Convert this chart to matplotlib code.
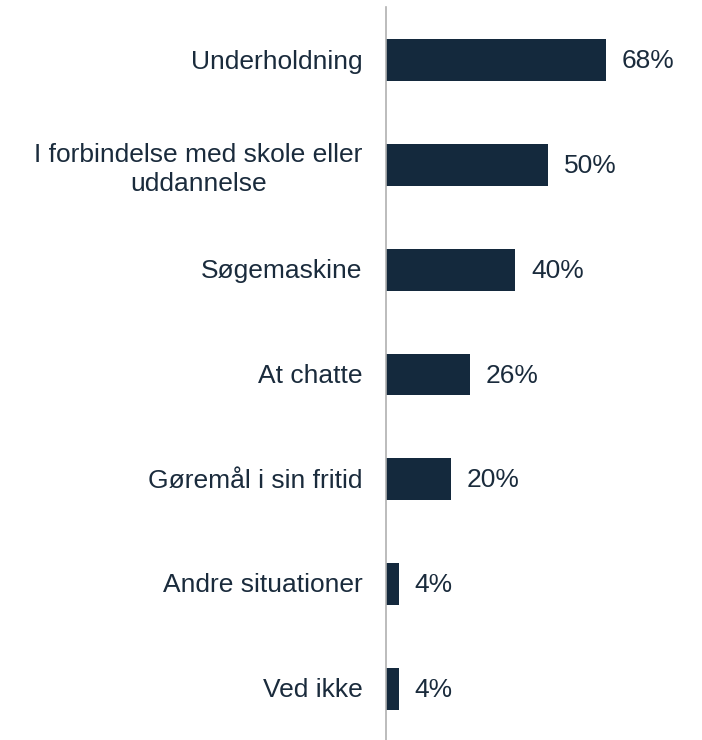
import numpy as np
import matplotlib.pyplot as plt

plt.rcParams['font.family'] = ['Liberation Sans', 'DejaVu Sans']

# Data
categories = [
    "Underholdning",
    "I forbindelse med skole eller\nuddannelse",
    "Søgemaskine",
    "At chatte",
    "Gøremål i sin fritid",
    "Andre situationer",
    "Ved ikke",
]
values = [68, 50, 40, 26, 20, 4, 4]

bar_color = "#14293D"
text_color = "#1A2B3C"

fig = plt.figure(figsize=(7.02, 7.40), dpi=100)
ax = fig.add_axes([386 / 702, 0.0, 1 - 386 / 702, 1 - 7 / 740])

y = np.arange(len(categories))
ax.barh(y + 0.01, values, height=0.4, color=bar_color)

for yi, v in zip(y, values):
    ax.text(v + 4.9, yi + 0.02, f"{v}%", va="center", ha="left",
            fontsize=19, color=text_color)

ax.set_ylim(len(categories) - 0.5, -0.5)
ax.set_xlim(0, (702 - 386) / 3.235)
ax.set_yticks(y)
ax.set_yticklabels(categories, fontsize=19, color=text_color,
                   linespacing=1.3, multialignment="center")
ax.tick_params(axis="y", length=0, pad=17)
ax.set_xticks([])

for side in ["top", "right", "bottom"]:
    ax.spines[side].set_visible(False)
ax.spines["left"].set_color("#B0B0B0")
ax.spines["left"].set_linewidth(1.2)

fig.savefig("out.png", dpi=100)
